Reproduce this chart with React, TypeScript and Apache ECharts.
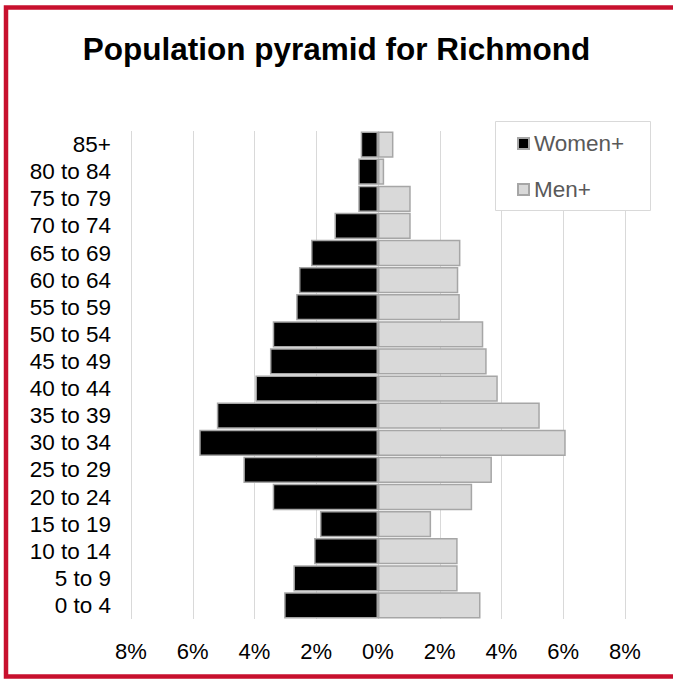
import React, { useEffect, useRef } from "react";
import * as echarts from "echarts";

const categories = [
  "0 to 4", "5 to 9", "10 to 14", "15 to 19", "20 to 24", "25 to 29",
  "30 to 34", "35 to 39", "40 to 44", "45 to 49", "50 to 54", "55 to 59",
  "60 to 64", "65 to 69", "70 to 74", "75 to 79", "80 to 84", "85+",
];
const women = [3.04, 2.74, 2.07, 1.88, 3.41, 4.36, 5.79, 5.22, 3.97, 3.5, 3.41, 2.65, 2.56, 2.17, 1.41, 0.64, 0.64, 0.56];
const men = [3.32, 2.58, 2.58, 1.72, 3.05, 3.69, 6.08, 5.24, 3.88, 3.52, 3.41, 2.65, 2.6, 2.67, 1.06, 1.06, 0.2, 0.5];
const xMin = -8;
const xMax = 8;
const xInterval = 2;

const FONT = "'Liberation Sans', Arial, sans-serif";

export default function App() {
  const ref = useRef<HTMLDivElement>(null);
  useEffect(() => {
    if (!ref.current) return;
    const chart = echarts.init(ref.current, undefined, { renderer: "svg" });
    chart.setOption({
      animation: false,
      backgroundColor: "#ffffff",
      title: {
        text: "Population pyramid for Richmond",
        left: "center",
        top: 28,
        textStyle: { fontFamily: FONT, fontSize: 31.5, fontWeight: "bold", color: "#000000" },
      },
      graphic: [
        {
          type: "rect",
          shape: { x: 6, y: 7.5, width: 720, height: 669 },
          style: { fill: "none", stroke: "#C8102E", lineWidth: 4.5 },
          silent: true,
        },
        {
          type: "rect",
          shape: { x: 495.5, y: 121.5, width: 155, height: 89 },
          style: { fill: "#ffffff", stroke: "#d9d9d9", lineWidth: 1 },
          silent: true,
          z: 1,
        },
      ],
      legend: {
        orient: "vertical",
        left: 512,
        top: 127,
        itemWidth: 11,
        itemHeight: 11,
        itemGap: 23,
        icon: "rect",
        z: 10,
        textStyle: { fontFamily: FONT, fontSize: 22.5, color: "#595959", lineHeight: 22 },
        data: ["Women+", "Men+"],
      },
      grid: { left: 131, right: 48, top: 131, bottom: 60, containLabel: false },
      xAxis: {
        type: "value",
        min: xMin,
        max: xMax,
        interval: xInterval,
        axisLine: { show: false },
        axisTick: { show: false },
        splitLine: { show: true, lineStyle: { color: "#d9d9d9", width: 1 } },
        axisLabel: {
          margin: 21,
          fontFamily: FONT,
          fontSize: 22,
          color: "#000000",
          formatter: (v: number) => Math.abs(v) + "%",
        },
      },
      yAxis: {
        type: "category",
        data: categories,
        axisLine: { show: false, onZero: false },
        axisTick: { show: false },
        splitLine: { show: false },
        axisLabel: { interval: 0, margin: 20, fontFamily: FONT, fontSize: 22.5, color: "#000000" },
      },
      series: [
        {
          name: "Women+",
          type: "bar",
          data: women.map((v) => -v),
          barGap: "-100%",
          barCategoryGap: "3%",
          itemStyle: { color: "#000000", borderColor: "#a6a6a6", borderWidth: 1.5 },
        },
        {
          name: "Men+",
          type: "bar",
          data: men,
          barGap: "-100%",
          barCategoryGap: "3%",
          itemStyle: { color: "#d9d9d9", borderColor: "#a6a6a6", borderWidth: 1.5 },
        },
      ],
    });
    return () => chart.dispose();
  }, []);
  return (
    <div
      ref={ref}
      style={{ position: "fixed", left: 0, top: 0, width: 673, height: 679 }}
    />
  );
}
